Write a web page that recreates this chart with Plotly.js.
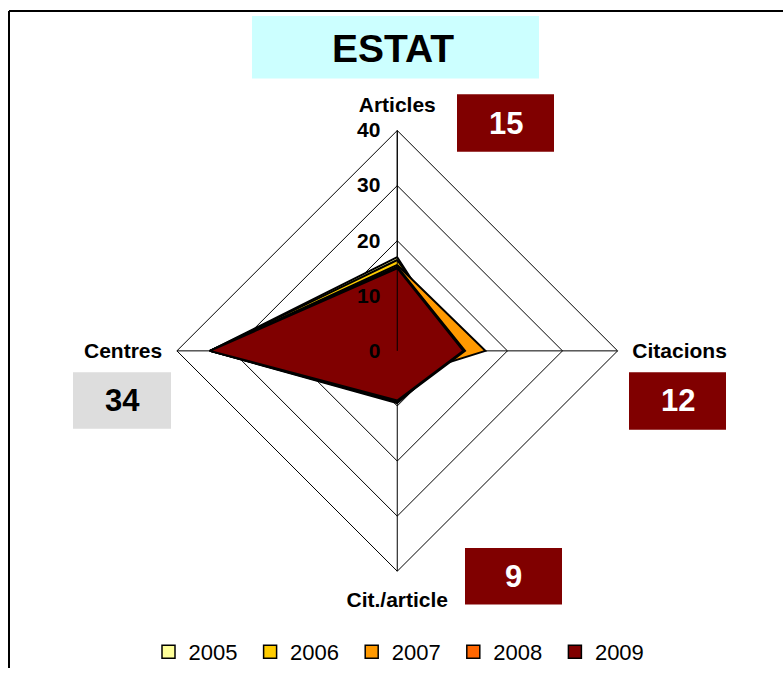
<!DOCTYPE html>
<html>
<head>
<meta charset="utf-8">
<script src="https://cdn.plot.ly/plotly-3.0.1.min.js"></script>
<style>html,body{margin:0;padding:0;background:#fff;}#chart{width:783px;height:673px;}</style>
</head>
<body>
<div id="chart"></div>
<script>
// ---- data ----
const categories = ['Articles', 'Citacions', 'Cit./article', 'Centres'];
const years = ['2005', '2006', '2007', '2008', '2009'];
const v2005 = [17, 11, 9.5, 34];
const v2006 = [16.5, 11.5, 9.3, 34];
const v2007 = [15.6, 16, 5, 34];
const v2008 = [15.3, 12.3, 9.2, 34];
const v2009 = [15, 12, 9, 34];
const seriesValues = [v2005, v2006, v2007, v2008, v2009];
const boxValues = ['15', '12', '9', '34'];   // summary boxes: Articles, Citacions, Cit./article, Centres
const chartTitle = 'ESTAT';
const radialTicks = [0, 10, 20, 30, 40];

// ---- styles ----
const colors = ['#ffff99', '#ffcc00', '#ff9900', '#ff6600', '#800000'];
const W = 783, H = 673;
const FONT = 'Arial, "Liberation Sans", sans-serif';
const px = (x) => x / W;
const py = (y) => 1 - y / H;

const traces = [];
// legend-only entries (square swatches)
years.forEach((y, i) => {
  traces.push({
    type: 'scatterpolar', r: [null], theta: [null], mode: 'markers', name: y,
    marker: {symbol: 'square', size: 13, color: colors[i], line: {color: '#000', width: 1.5}},
    showlegend: true, hoverinfo: 'skip'
  });
});
seriesValues.forEach((vals, i) => {
  traces.push({
    type: 'scatterpolar',
    r: vals.concat([vals[0]]),
    theta: categories.concat([categories[0]]),
    mode: 'lines', fill: 'toself', fillcolor: colors[i],
    line: {color: '#000', width: 2},
    name: years[i], showlegend: false
  });
});

const shapes = [
  // frame
  {type: 'line', xref: 'paper', yref: 'paper', x0: px(9), x1: px(783), y0: py(11), y1: py(11), line: {color: '#000', width: 2}},
  {type: 'line', xref: 'paper', yref: 'paper', x0: px(9), x1: px(9), y0: py(11), y1: py(673), line: {color: '#000', width: 2}},
  // title box
  {type: 'rect', xref: 'paper', yref: 'paper', x0: px(252), x1: px(539), y0: py(16), y1: py(79), fillcolor: '#ccffff', line: {width: 0}},
  // value boxes
  {type: 'rect', xref: 'paper', yref: 'paper', x0: px(457), x1: px(554), y0: py(95), y1: py(153), fillcolor: '#800000', line: {width: 0}},
  {type: 'rect', xref: 'paper', yref: 'paper', x0: px(629), x1: px(726), y0: py(375), y1: py(433), fillcolor: '#800000', line: {width: 0}},
  {type: 'rect', xref: 'paper', yref: 'paper', x0: px(465), x1: px(562), y0: py(552), y1: py(609), fillcolor: '#800000', line: {width: 0}},
  {type: 'rect', xref: 'paper', yref: 'paper', x0: px(73), x1: px(171), y0: py(375), y1: py(432), fillcolor: '#dddddd', line: {width: 0}}
];

const boxCenters = [[505.5, 124], [677.5, 404], [513.5, 580.5], [122, 403.5]];
const boxTextColors = ['#fff', '#fff', '#fff', '#000'];
const annotations = [
  {xref: 'paper', yref: 'paper', x: px(393), y: py(49), text: chartTitle, showarrow: false,
   xanchor: 'center', yanchor: 'middle', font: {family: FONT, size: 39, weight: 'bold', color: '#000'}}
];
boxValues.forEach((t, i) => {
  annotations.push({xref: 'paper', yref: 'paper', x: px(boxCenters[i][0]), y: py(boxCenters[i][1]), text: t,
    showarrow: false, xanchor: 'center', yanchor: 'middle',
    font: {family: FONT, size: 31, weight: 'bold', color: boxTextColors[i]}});
});

const layout = {
  width: W, height: H,
  margin: {l: 0, r: 0, t: 0, b: 0},
  paper_bgcolor: '#fff',
  showlegend: true,
  font: {family: FONT, color: '#000'},
  polar: {
    domain: {x: [px(175), px(619.5)], y: [py(575.5), py(131.5)]},
    gridshape: 'linear',
    bgcolor: '#fff',
    radialaxis: {
      range: [0, 40], tickvals: radialTicks, angle: 90, tickangle: 90,
      side: 'counterclockwise',
      showline: true, linecolor: '#000', linewidth: 1,
      showgrid: true, gridcolor: '#000', gridwidth: 1,
      ticks: 'outside', ticklen: 9, tickcolor: 'rgba(0,0,0,0)',
      tickfont: {family: FONT, size: 21, weight: 'bold', color: '#000'}
    },
    angularaxis: {
      type: 'category', categoryarray: categories, rotation: 90, direction: 'clockwise',
      showline: true, linecolor: '#000', linewidth: 1,
      showgrid: true, gridcolor: '#000', gridwidth: 1,
      ticks: 'outside', ticklen: 10, tickcolor: 'rgba(0,0,0,0)',
      tickfont: {family: FONT, size: 21, weight: 'bold', color: '#000'}
    }
  },
  legend: {
    orientation: 'h', x: px(148.5), xanchor: 'left', y: py(636), yanchor: 'top',
    entrywidth: 56.6, entrywidthmode: 'pixels',
    font: {family: FONT, size: 22, color: '#000'}, bgcolor: 'rgba(0,0,0,0)'
  },
  shapes: shapes,
  annotations: annotations
};

Plotly.newPlot('chart', traces, layout, {displayModeBar: false, staticPlot: true});
</script>
</body>
</html>
